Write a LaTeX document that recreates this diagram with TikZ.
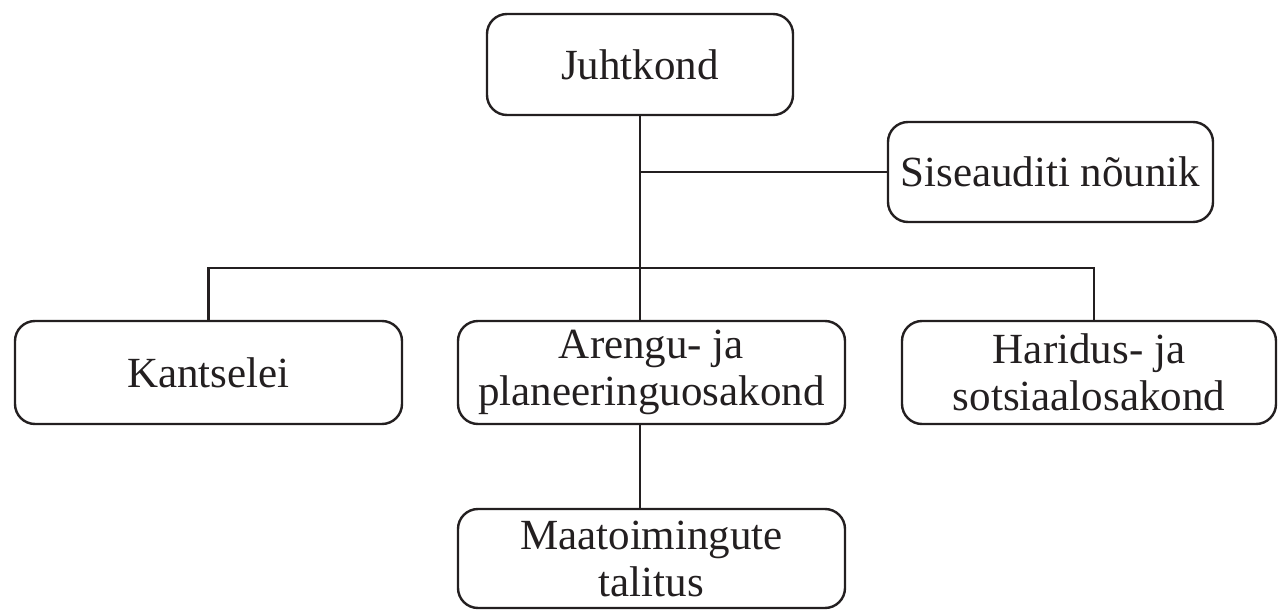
\documentclass[tikz,border=0pt]{standalone}
\usepackage{fontspec}
\setmainfont{Liberation Serif}
\definecolor{ink}{HTML}{231F20}
\begin{document}
\begin{tikzpicture}[x=1pt,y=-1pt,
  unit/.style={draw=ink, line width=2.4pt, rounded corners=20pt, inner sep=0pt,
    align=center, text=ink, font=\fontsize{43}{47}\selectfont},
  link/.style={draw=ink, line width=2.2pt}]
\useasboundingbox (0,0) rectangle (1278,610);
\node[unit, minimum width=306pt, minimum height=101pt] (juht) at (640,64.5) {Juhtkond};
\node[unit, minimum width=325pt, minimum height=100pt] (sise) at (1050.5,172) {Siseauditi nõunik};
\node[unit, minimum width=387pt, minimum height=103pt] (kant) at (208.5,372.5) {Kantselei};
\node[unit, minimum width=387pt, minimum height=103pt] (aren) at (651.5,372.5) {Arengu- ja\\planeeringuosakond};
\node[unit, minimum width=374pt, minimum height=103pt] (hari) at (1089,372.5) {Haridus- ja\\sotsiaalosakond};
\node[unit, minimum width=387pt, minimum height=99pt] (maat) at (651.5,558.5) {Maatoimingute\\talitus};
\coordinate (hb) at (1094,268);
\draw[link] (juht.south) -- (juht.south |- aren.north);
\draw[link] (sise.west) -- (sise.west -| juht.south);
\draw[link] (kant.north) |- (hb) -- (hb |- hari.north);
\draw[link] (aren.south -| juht.south) -- (maat.north -| juht.south);
\end{tikzpicture}
\end{document}
